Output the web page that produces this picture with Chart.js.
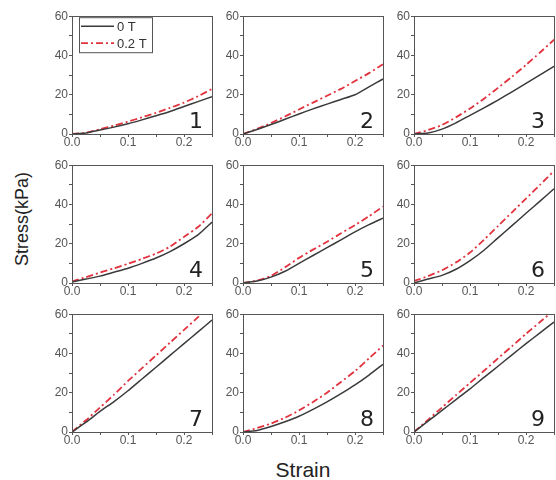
<!DOCTYPE html>
<html>
<head>
<meta charset="utf-8">
<script src="https://cdn.jsdelivr.net/npm/chart.js@4.4.1/dist/chart.umd.min.js"></script>
<style>
body { margin: 0; background: #fff; }
#wrap { position: relative; width: 556px; height: 480px; overflow: hidden; font-family: "Liberation Sans", Arial, sans-serif; }
#wrap canvas { position: absolute; }
#ylab { position: absolute; left: 22px; top: 219px; transform: translate(-50%, -50%) rotate(-90deg); font-size: 18px; color: #222; white-space: nowrap; }
#xlab { position: absolute; left: 303px; top: 470px; transform: translate(-50%, -50%); font-size: 21px; color: #222; }
</style>
</head>
<body>
<div id="wrap">
  <div id="ylab">Stress(kPa)</div>
  <div id="xlab">Strain</div>
</div>
<script>
// strain points shared by every panel
const strain = [0, 0.025, 0.05, 0.075, 0.1, 0.125, 0.15, 0.175, 0.2, 0.225, 0.25];
const panelNames = ['1', '2', '3', '4', '5', '6', '7', '8', '9'];
const seriesNames = ['0 T', '0.2 T'];
const yTicks = [0, 20, 40, 60];
const xTicks = [0.0, 0.1, 0.2];

// stress (kPa)
const p1_0T  = [0, 0.5, 2, 3.5, 5.2, 7.2, 9.3, 11.5, 14, 16.5, 19];
const p1_02T = [0, 0.6, 2.4, 4.3, 6.3, 8.5, 10.8, 13.3, 16, 19.2, 23];
const p2_0T  = [0, 2.3, 4.8, 7.5, 10.2, 12.8, 15.2, 17.6, 20, 24, 28];
const p2_02T = [0, 2.6, 5.6, 8.9, 12.5, 16, 19.5, 23, 27, 31, 35.5];
const p3_0T  = [0, 0.5, 2.5, 5.7, 9.5, 13.3, 17.3, 21.5, 25.8, 30.1, 34.5];
const p3_02T = [0, 2, 4.6, 8.5, 13, 18, 23.5, 29.2, 35.2, 41.5, 48];
const p4_0T  = [0.5, 2, 3.5, 5.5, 7.5, 10, 12.7, 16, 20, 24.5, 31];
const p4_02T = [0.8, 3, 5.3, 7.5, 9.8, 12.3, 15, 18.5, 23.5, 28.5, 35.5];
const p5_0T  = [0, 1, 3, 6, 10, 14, 18, 22, 26, 29.7, 33];
const p5_02T = [0, 1.2, 3.6, 8, 12.8, 17, 21, 25.3, 29.5, 34, 39];
const p6_0T  = [0, 2, 3.9, 7, 11.4, 16.7, 23, 29.2, 35.5, 41.7, 48];
const p6_02T = [1, 3.5, 6.5, 10.5, 15.5, 22, 29, 36, 43, 50, 57];
const p7_0T  = [0, 5, 10.5, 15.5, 21, 27, 33, 39, 45, 51, 57];
const p7_02T = [0, 6, 12.5, 19, 26, 32.5, 39, 45.5, 52, 58.5, 65];
const p8_0T  = [0, 0.8, 2.8, 5.2, 8, 11.5, 15.3, 19.5, 24, 29, 34.5];
const p8_02T = [0, 2, 4.3, 7.3, 11, 15.3, 20, 25.5, 31, 37.5, 44];
const p9_0T  = [0, 5.5, 11, 16.5, 22, 27.8, 33.5, 39.3, 45, 50.5, 56];
const p9_02T = [0, 6.2, 12.5, 18.8, 25, 31.2, 37.5, 43.7, 50, 56, 62];

const panels = [
    [p1_0T, p1_02T], [p2_0T, p2_02T], [p3_0T, p3_02T],
    [p4_0T, p4_02T], [p5_0T, p5_02T], [p6_0T, p6_02T],
    [p7_0T, p7_02T], [p8_0T, p8_02T], [p9_0T, p9_02T]
];

const colLeft = [72, 243, 414];
const rowTop = [14, 163, 312];
const plotW = 140, plotH = 120;
const padL = 40, padT = 6, padR = 6, axisH = 18;

const frameColor = '#555';
const blackLine = '#3a3a3a';
const redLine = '#e2323e';

function toPoints(ys) {
    return strain.map((x, i) => ({ x: x, y: ys[i] }));
}

// box round the plot + the big panel number
const framePlugin = {
    id: 'frame',
    afterDraw(chart) {
        const a = chart.chartArea;
        const ctx = chart.ctx;
        ctx.save();
        ctx.strokeStyle = frameColor;
        ctx.lineWidth = 1;
        ctx.strokeRect(Math.round(a.left) + 0.5, Math.round(a.top) + 0.5, Math.round(a.right - a.left), Math.round(a.bottom - a.top));
        ctx.fillStyle = '#222';
        ctx.font = '22px "DejaVu Sans", sans-serif';
        ctx.textAlign = 'right';
        ctx.textBaseline = 'alphabetic';
        ctx.fillText(chart.options.plugins.frame.name, a.right - 9, a.bottom - 6);
        ctx.restore();
    }
};

// legend box only drawn in panel 1
const boxLegend = {
    id: 'boxLegend',
    afterDraw(chart) {
        if (!chart.options.plugins.boxLegend.show) return;
        const a = chart.chartArea;
        const ctx = chart.ctx;
        const x0 = a.left + 7, y0 = a.top + 1;
        ctx.save();
        ctx.strokeStyle = frameColor;
        ctx.lineWidth = 1;
        ctx.strokeRect(x0 + 0.5, y0 + 0.5, 73, 35);
        chart.data.datasets.forEach((ds, i) => {
            const y = y0 + 9 + i * 17;
            ctx.strokeStyle = ds.borderColor;
            ctx.lineWidth = ds.borderWidth;
            ctx.setLineDash(ds.borderDash || []);
            ctx.beginPath();
            ctx.moveTo(x0 + 2, y);
            ctx.lineTo(x0 + 35, y);
            ctx.stroke();
            ctx.setLineDash([]);
            ctx.fillStyle = '#333';
            ctx.font = '13px "Liberation Sans", Arial, sans-serif';
            ctx.textAlign = 'left';
            ctx.textBaseline = 'middle';
            ctx.fillText(ds.label, x0 + 38, y + 1);
        });
        ctx.restore();
    }
};

const wrap = document.getElementById('wrap');

panels.forEach((pair, idx) => {
    const r = Math.floor(idx / 3), c = idx % 3;
    const cv = document.createElement('canvas');
    const w = padL + plotW + padR, h = padT + plotH + axisH;
    cv.width = w; cv.height = h;
    cv.style.width = w + 'px'; cv.style.height = h + 'px';
    cv.style.left = (colLeft[c] - padL) + 'px';
    cv.style.top = (rowTop[r] - padT) + 'px';
    wrap.appendChild(cv);

    new Chart(cv.getContext('2d'), {
        type: 'line',
        data: {
            datasets: [{
                label: seriesNames[0],
                data: toPoints(pair[0]),
                borderColor: blackLine,
                borderWidth: 1.5,
                pointRadius: 0,
                tension: 0.2
            },
            {
                label: seriesNames[1],
                data: toPoints(pair[1]),
                borderColor: redLine,
                borderWidth: 1.8,
                borderDash: [7, 3, 2, 3],
                pointRadius: 0,
                tension: 0.2
            }]
        },
        options: {
            responsive: false,
            animation: false,
            layout: { padding: { left: 0, top: padT, right: padR, bottom: 0 } },
            plugins: {
                legend: { display: false },
                tooltip: { enabled: false },
                frame: { name: panelNames[idx] },
                boxLegend: { show: idx === 0 }
            },
            scales: {
                x: {
                    type: 'linear',
                    min: 0,
                    max: 0.25,
                    afterFit: (s) => { s.height = axisH; },
                    border: { color: frameColor },
                    grid: { drawOnChartArea: false, tickLength: 3, tickColor: frameColor },
                    ticks: {
                        stepSize: 0.05,
                        padding: -2,
                        maxRotation: 0,
                        color: '#555',
                        font: { size: 12, family: '"Liberation Sans", Arial, sans-serif' },
                        callback: (v) => xTicks.some(t => Math.abs(t - v) < 1e-6) ? Number(v).toFixed(1) : ''
                    }
                },
                y: {
                    min: 0,
                    max: 60,
                    afterFit: (s) => { s.width = padL; },
                    border: { color: frameColor },
                    grid: { drawOnChartArea: false, tickLength: 3, tickColor: frameColor },
                    ticks: {
                        stepSize: 10,
                        padding: 1,
                        color: '#555',
                        font: { size: 12, family: '"Liberation Sans", Arial, sans-serif' },
                        callback: (v) => yTicks.includes(v) ? v : ''
                    }
                }
            }
        },
        plugins: [framePlugin, boxLegend]
    });
});
</script>
</body>
</html>
